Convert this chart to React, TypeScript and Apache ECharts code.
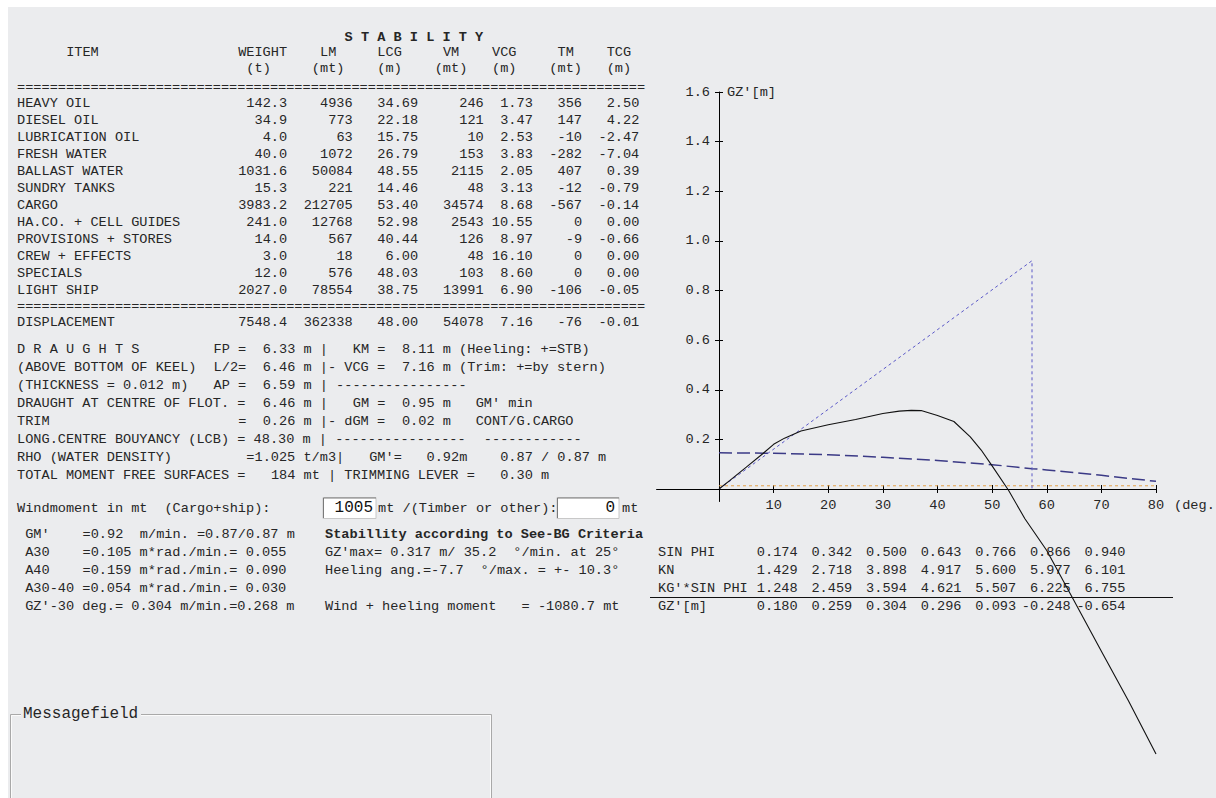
import React, { useEffect, useRef } from "react";
import * as echarts from "echarts";

// ---------- data ----------
const items = ["HEAVY OIL", "DIESEL OIL", "LUBRICATION OIL", "FRESH WATER", "BALLAST WATER", "SUNDRY TANKS", "CARGO", "HA.CO. + CELL GUIDES", "PROVISIONS + STORES", "CREW + EFFECTS", "SPECIALS", "LIGHT SHIP"];
const weight = [142.3, 34.9, 4.0, 40.0, 1031.6, 15.3, 3983.2, 241.0, 14.0, 3.0, 12.0, 2027.0];
const lm = [4936, 773, 63, 1072, 50084, 221, 212705, 12768, 567, 18, 576, 78554];
const lcg = [34.69, 22.18, 15.75, 26.79, 48.55, 14.46, 53.40, 52.98, 40.44, 6.00, 48.03, 38.75];
const vm = [246, 121, 10, 153, 2115, 48, 34574, 2543, 126, 48, 103, 13991];
const vcg = [1.73, 3.47, 2.53, 3.83, 2.05, 3.13, 8.68, 10.55, 8.97, 16.10, 8.60, 6.90];
const tm = [356, 147, -10, -282, 407, -12, -567, 0, -9, 0, 0, -106];
const tcg = [2.50, 4.22, -2.47, -7.04, 0.39, -0.79, -0.14, 0.00, -0.66, 0.00, 0.00, -0.05];
const displacement = [7548.4, 362338, 48.00, 54078, 7.16, -76, -0.01];

const draughtLines = [
  "D R A U G H T S         FP =  6.33 m |   KM =  8.11 m (Heeling: +=STB)",
  "(ABOVE BOTTOM OF KEEL)  L/2=  6.46 m |- VCG =  7.16 m (Trim: +=by stern)",
  "(THICKNESS = 0.012 m)   AP =  6.59 m | ----------------",
  "DRAUGHT AT CENTRE OF FLOT. =  6.46 m |   GM =  0.95 m   GM' min",
  "TRIM                       =  0.26 m |- dGM =  0.02 m   CONT/G.CARGO",
  "LONG.CENTRE BOUYANCY (LCB) = 48.30 m | ----------------  ------------",
  "RHO (WATER DENSITY)         =1.025 t/m3|   GM'=   0.92m    0.87 / 0.87 m",
  "TOTAL MOMENT FREE SURFACES =   184 mt | TRIMMING LEVER =   0.30 m",
];
const windCargoShip = 1005;
const windTimber = 0;
const criteriaLeft = [
  " GM'    =0.92  m/min. =0.87/0.87 m",
  " A30    =0.105 m*rad./min.= 0.055",
  " A40    =0.159 m*rad./min.= 0.090",
  " A30-40 =0.054 m*rad./min.= 0.030",
  " GZ'-30 deg.= 0.304 m/min.=0.268 m",
];
const criteriaRight = [
  "Stabillity according to See-BG Criteria",
  "GZ'max= 0.317 m/ 35.2  \u00b0/min. at 25\u00b0",
  "Heeling ang.=-7.7  \u00b0/max. = +- 10.3\u00b0",
  "",
  "Wind + heeling moment   = -1080.7 mt",
];

// heel angle table
const phiDeg = [10, 20, 30, 40, 50, 60, 70];
const sinPhi = [0.174, 0.342, 0.5, 0.643, 0.766, 0.866, 0.94];
const kn = [1.429, 2.718, 3.898, 4.917, 5.6, 5.977, 6.101];
const kgSinPhi = [1.248, 2.459, 3.594, 4.621, 5.507, 6.225, 6.755];
const gzTable = [0.18, 0.259, 0.304, 0.296, 0.093, -0.248, -0.654];

// GZ curve
const gzDeg = [0, 2, 5, 8, 10, 12, 15, 20, 25, 30, 33, 35.2, 37, 40, 43, 46, 48, 50, 53, 56, 60, 65, 70, 75, 80];
const gzVal = [0, 0.035, 0.088, 0.142, 0.18, 0.205, 0.234, 0.259, 0.28, 0.304, 0.314, 0.317, 0.316, 0.296, 0.272, 0.21, 0.157, 0.093, -0.005, -0.12, -0.248, -0.45, -0.654, -0.855, -1.068];
// GM' tangent (1 rad = 57.3 deg)
const tangentDeg = [0, 57.3, 57.3];
const tangentVal = [0, 0.92, 0];
// heeling lever (wind)
const heelDeg = [0, 10, 20, 30, 40, 50, 57.3, 60, 70, 80];
const heelVal = [0.146, 0.144, 0.138, 0.128, 0.115, 0.098, 0.082, 0.077, 0.055, 0.031];
// minimum line
const minDeg = [0, 80];
const minVal = [0.013, 0.013];
// axis stubs beyond the origin
const xStubDeg = [-11.5, 0];
const yStubVal = [0, -0.052];

const xTicks = [10, 20, 30, 40, 50, 60, 70, 80];
const yTicks = [0.2, 0.4, 0.6, 0.8, 1.0, 1.2, 1.4, 1.6];

// ---------- style ----------
const FAMILY = '"Liberation Mono", "Courier New", monospace';
const FS = 13.6;
const CW = 8.19;
const X0 = 17;
const TXT = "#262626";
const BG = "#ebecee";

const pair = (xs: number[], ys: number[]) => xs.map((x, i) => [x, ys[i]]);

function tokenEls(line: string, x0: number, y: number, bold = false) {
  const out: any[] = [];
  const re = /\S+(?: \S+)*/g;
  let m: RegExpExecArray | null;
  while ((m = re.exec(line)) !== null) {
    out.push({
      type: "text",
      silent: true,
      x: x0 + m.index * CW,
      y,
      style: {
        text: m[0],
        fill: TXT,
        font: `${bold ? "bold " : ""}${FS}px ${FAMILY}`,
        verticalAlign: "middle",
      },
    });
  }
  return out;
}

function placeAt(pairs: [number, string][]) {
  let s = "";
  for (const [c, t] of pairs) {
    s = s.padEnd(c) + t;
  }
  return s;
}

const f1 = (v: number) => v.toFixed(1);
const f2 = (v: number) => v.toFixed(2);
const f0 = (v: number) => String(Math.round(v));

function rowLine(name: string, w: number, a: number, b: number, c: number, d: number, e: number, f: number) {
  return (
    name.padEnd(24) +
    f1(w).padStart(9) +
    f0(a).padStart(8) +
    f2(b).padStart(8) +
    f0(c).padStart(8) +
    f2(d).padStart(6) +
    f0(e).padStart(6) +
    f2(f).padStart(7)
  );
}

export default function App() {
  const ref = useRef<HTMLDivElement>(null);
  useEffect(() => {
    document.body.style.margin = "0";
    const chart = echarts.init(ref.current!, undefined, { renderer: "svg" });
    const axisFont = { fontFamily: FAMILY, fontSize: FS, color: TXT };
    const xBase = { type: "value", min: 0, max: 80, position: "bottom", splitLine: { show: false } };
    const yBase = { type: "value", min: 0, max: 1.6, position: "left", splitLine: { show: false } };
    chart.setOption({
      animation: false,
      backgroundColor: BG,
      grid: { left: 719, right: 60, top: 92, bottom: 309, containLabel: false },
      xAxis: [
        {
          ...xBase,
          axisLine: { onZero: false, lineStyle: { color: "#000", width: 1 } },
          axisTick: { show: true, inside: false, length: 4, customValues: xTicks, lineStyle: { color: "#000" } },
          axisLabel: { customValues: xTicks, margin: 9, ...axisFont },
          name: "(deg.",
          nameLocation: "end",
          nameGap: 18,
          nameTextStyle: { ...axisFont, align: "left", verticalAlign: "top", padding: [9, 0, 0, 0] },
        },
        {
          ...xBase,
          axisLine: { onZero: false, show: false },
          axisTick: { show: true, inside: true, length: 4, customValues: xTicks, lineStyle: { color: "#000" } },
          axisLabel: { show: false },
        },
      ],
      yAxis: [
        {
          ...yBase,
          axisLine: { onZero: false, lineStyle: { color: "#000", width: 1 } },
          axisTick: { show: true, inside: false, length: 4, customValues: yTicks, lineStyle: { color: "#000" } },
          axisLabel: { customValues: yTicks, margin: 9, formatter: (v: number) => v.toFixed(1), ...axisFont },
          name: "GZ'[m]",
          nameLocation: "end",
          nameGap: 0,
          nameTextStyle: { ...axisFont, align: "left", verticalAlign: "middle", padding: [0, 0, 0, 8] },
        },
        {
          ...yBase,
          axisLine: { onZero: false, show: false },
          axisTick: { show: true, inside: true, length: 4, customValues: yTicks, lineStyle: { color: "#000" } },
          axisLabel: { show: false },
        },
      ],
      series: [
        {
          name: "min",
          type: "line",
          data: pair(minDeg, minVal),
          symbol: "none",
          clip: false,
          lineStyle: { color: "#e3a14a", width: 1, type: [3, 3] },
          z: 2,
        },
        {
          name: "heeling lever",
          type: "line",
          data: pair(heelDeg, heelVal),
          symbol: "none",
          clip: false,
          lineStyle: { color: "#3b3a86", width: 1.5, type: [13, 5] },
          z: 3,
        },
        {
          name: "GM tangent",
          type: "line",
          data: pair(tangentDeg, tangentVal),
          symbol: "none",
          clip: false,
          lineStyle: { color: "#5a58c8", width: 1, type: [3, 3] },
          z: 3,
        },
        {
          name: "GZ",
          type: "line",
          data: pair(gzDeg, gzVal),
          symbol: "none",
          clip: false,
          lineStyle: { color: "#111", width: 1.1 },
          z: 4,
        },
      ],
    });

    const px = (deg: number, val: number) => chart.convertToPixel({ gridIndex: 0 }, [deg, val]) as number[];

    const els: any[] = [];
    // white page margins
    els.push({ type: "rect", silent: true, shape: { x: 0, y: 0, width: 1216, height: 7 }, style: { fill: "#fff" } });
    els.push({ type: "rect", silent: true, shape: { x: 0, y: 0, width: 8, height: 798 }, style: { fill: "#fff" } });

    // axis stubs past the origin
    const o = px(0, 0);
    const xs = px(xStubDeg[0], 0);
    const ys = px(0, yStubVal[1]);
    els.push({ type: "line", silent: true, z: 10, shape: { x1: xs[0], y1: o[1] + 0.5, x2: o[0], y2: o[1] + 0.5 }, style: { stroke: "#000", lineWidth: 1 } });
    els.push({ type: "line", silent: true, z: 10, shape: { x1: o[0] + 0.5, y1: o[1], x2: o[0] + 0.5, y2: ys[1] }, style: { stroke: "#000", lineWidth: 1 } });

    // stability table
    els.push(...tokenEls(placeAt([[40, "S T A B I L I T Y"]]), X0, 37, true));
    els.push(...tokenEls(placeAt([[6, "ITEM"], [27, "WEIGHT"], [37, "LM"], [44, "LCG"], [52, "VM"], [58, "VCG"], [66, "TM"], [72, "TCG"]]), X0, 52));
    els.push(...tokenEls(placeAt([[28, "(t)"], [36, "(mt)"], [44, "(m)"], [51, "(mt)"], [58, "(m)"], [65, "(mt)"], [72, "(m)"]]), X0, 68));
    els.push(...tokenEls("=".repeat(77), X0, 87));
    items.forEach((it, i) => {
      els.push(...tokenEls(rowLine(it, weight[i], lm[i], lcg[i], vm[i], vcg[i], tm[i], tcg[i]), X0, 103 + i * 17));
    });
    els.push(...tokenEls("=".repeat(77), X0, 306));
    const d = displacement;
    els.push(...tokenEls(rowLine("DISPLACEMENT", d[0], d[1], d[2], d[3], d[4], d[5], d[6]), X0, 322));

    draughtLines.forEach((l, i) => els.push(...tokenEls(l, X0, 349 + i * 18)));

    // wind moment row
    const windY = 508;
    els.push(...tokenEls("Windmoment in mt  (Cargo+ship):", X0, windY));
    const box = (x: number, w: number) => [
      { type: "rect", silent: true, shape: { x: x, y: windY - 10.5, width: w, height: 21 }, style: { fill: "#fff", stroke: "#c8c8c8", lineWidth: 1 } },
      { type: "polyline", silent: true, shape: { points: [[x + 0.5, windY + 10], [x + 0.5, windY - 10], [x + w, windY - 10]] }, style: { stroke: "#7a7a7a", lineWidth: 1, fill: null } },
    ];
    els.push(...box(323, 53));
    els.push({ type: "text", silent: true, x: 373, y: windY, style: { text: String(windCargoShip), fill: "#111", font: `16px ${FAMILY}`, align: "right", verticalAlign: "middle" } });
    els.push(...tokenEls("mt /(Timber or other):", 378, windY));
    els.push(...box(557, 62));
    els.push({ type: "text", silent: true, x: 615, y: windY, style: { text: String(windTimber), fill: "#111", font: `16px ${FAMILY}`, align: "right", verticalAlign: "middle" } });
    els.push(...tokenEls("mt", 622, windY));

    criteriaLeft.forEach((l, i) => els.push(...tokenEls(l, X0, 534 + i * 18)));
    criteriaRight.forEach((l, i) => els.push(...tokenEls(l, 325, 534 + i * 18, i === 0)));

    // heel angle table under the chart
    const rows: [string, number[]][] = [
      ["SIN PHI", sinPhi],
      ["KN", kn],
      ["KG'*SIN PHI", kgSinPhi],
      ["GZ'[m]", gzTable],
    ];
    rows.forEach(([label, vals], r) => {
      const y = 552 + r * 18;
      els.push({ type: "text", silent: true, x: 658, y, style: { text: label, fill: TXT, font: `${FS}px ${FAMILY}`, verticalAlign: "middle" } });
      vals.forEach((v, i) => {
        const cx = px(phiDeg[i], 0)[0];
        els.push({ type: "text", silent: true, x: cx + 24, y, style: { text: v.toFixed(3), fill: TXT, font: `${FS}px ${FAMILY}`, align: "right", verticalAlign: "middle" } });
      });
    });
    els.push({ type: "line", silent: true, shape: { x1: 650, y1: 597.5, x2: 1173, y2: 597.5 }, style: { stroke: "#111", lineWidth: 1.2 } });

    // message field group box
    els.push({ type: "rect", silent: true, shape: { x: 10.5, y: 714.5, width: 481, height: 100 }, style: { fill: null, stroke: "#a9a9a9", lineWidth: 1 } });
    els.push({ type: "rect", silent: true, shape: { x: 11.5, y: 715.5, width: 479, height: 100 }, style: { fill: null, stroke: "#fbfbfb", lineWidth: 1 } });
    els.push({ type: "rect", silent: true, shape: { x: 21, y: 705, width: 120, height: 18 }, style: { fill: BG } });
    els.push({ type: "text", silent: true, x: 23, y: 714, style: { text: "Messagefield", fill: TXT, font: `16px ${FAMILY}`, verticalAlign: "middle" } });

    chart.setOption({ graphic: { elements: els } });
    return () => chart.dispose();
  }, []);
  return <div ref={ref} style={{ width: 1216, height: 798, overflow: "hidden" }} />;
}
